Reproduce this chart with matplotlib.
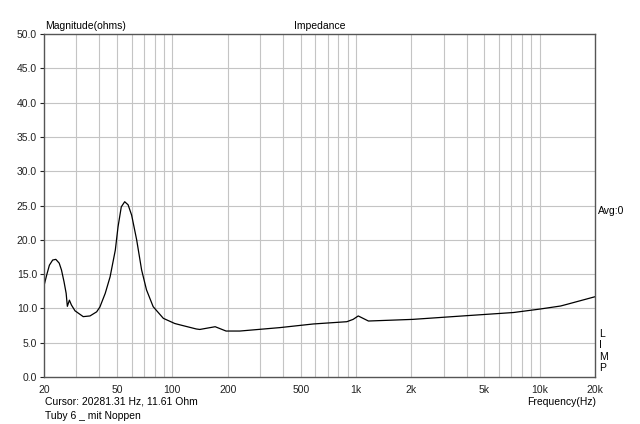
import matplotlib
matplotlib.use("Agg")
import matplotlib.pyplot as plt
from matplotlib.ticker import FixedLocator, NullFormatter, NullLocator

plt.rcParams['font.family'] = ['Liberation Sans', 'DejaVu Sans']

freq_hz = [20, 20.7, 21.4, 22.3, 23.2, 24.2, 24.9, 25.7, 26.4, 26.8, 27.5, 28.2,
           29.5, 32.7, 35.6, 38.7, 40.3, 43.1, 45.8, 48.9, 50.6, 52.7, 55.0, 57.4,
           60.0, 63.9, 68.0, 72.3, 78.6, 89.3, 103, 110, 135,
           141, 171, 196, 233, 385, 585, 891, 964, 1028, 1168, 2037, 3804, 7200,
           10000, 13000, 14100, 20000]
impedance_ohm = [13.3, 14.9, 16.3, 17.05, 17.15, 16.6, 15.6, 13.9, 12.2, 10.3, 11.2, 10.5,
                 9.65, 8.8, 8.9, 9.5, 10.2, 12.2, 14.6, 18.5, 21.9, 24.8, 25.55, 25.1,
                 23.6, 20.0, 15.6, 12.7, 10.25, 8.55, 7.8, 7.6, 7.0,
                 6.93, 7.33, 6.7, 6.7, 7.2, 7.73, 8.06, 8.4, 8.9, 8.16, 8.4, 8.9, 9.4,
                 9.9, 10.35, 10.6, 11.7]

x_ticks = [20, 50, 100, 200, 500, 1000, 2000, 5000, 10000, 20000]
x_tick_labels = ['20', '50', '100', '200', '500', '1k', '2k', '5k', '10k', '20k']
y_ticks = [0, 5, 10, 15, 20, 25, 30, 35, 40, 45, 50]
minor_grid = [30, 40, 50, 60, 70, 80, 90, 200, 300, 400, 500, 600, 700, 800, 900,
              2000, 3000, 4000, 5000, 6000, 7000, 8000, 9000, 10000]

fig = plt.figure(figsize=(6.4, 4.24), dpi=100)
ax = fig.add_axes([44/640, 47/424, 551/640, 343/424])

ax.plot(freq_hz, impedance_ohm, color='black', lw=0.9)
ax.set_xscale('log')
ax.set_xlim(20, 20000)
ax.set_ylim(0, 50)

grid_c = '#c4c4c4'
for f in minor_grid + [100, 1000]:
    ax.axvline(f, color=grid_c, lw=0.8, zorder=0)
for yv in y_ticks[1:-1]:
    ax.axhline(yv, color=grid_c, lw=0.8, zorder=0)

ax.xaxis.set_major_locator(FixedLocator(x_ticks))
ax.set_xticklabels(x_tick_labels)
ax.xaxis.set_minor_locator(NullLocator())
ax.xaxis.set_minor_formatter(NullFormatter())
ax.tick_params(axis='x', length=0, pad=6, labelsize=7.5, colors='#222222')
ax.set_yticks(y_ticks)
ax.set_yticklabels([f'{v:.1f}' for v in y_ticks])
ax.tick_params(axis='y', length=3, width=0.8, pad=2, labelsize=7.5, colors='#222222')

for s in ax.spines.values():
    s.set_color('#555555')
    s.set_linewidth(1.0)

fig.text(45/640, 1 - 26/424, 'Magnitude(ohms)', fontsize=7.5, ha='left', va='center')
fig.text(320/640, 1 - 26/424, 'Impedance', fontsize=7.5, ha='center', va='center')
fig.text(598/640, 1 - 211/424, 'Avg:0', fontsize=7.5, ha='left', va='center')
for i, ch in enumerate('LIMP'):
    fig.text(599/640, 1 - (334 + i*11.3)/424, ch, fontsize=7.5, ha='left', va='center')
fig.text(45/640, 1 - 402/424, 'Cursor: 20281.31 Hz, 11.61 Ohm', fontsize=7.5, ha='left', va='center')
fig.text(45/640, 1 - 416/424, 'Tuby 6 _ mit Noppen', fontsize=7.5, ha='left', va='center')
fig.text(596/640, 1 - 402/424, 'Frequency(Hz)', fontsize=7.5, ha='right', va='center')

fig.savefig('out.png', dpi=100)
